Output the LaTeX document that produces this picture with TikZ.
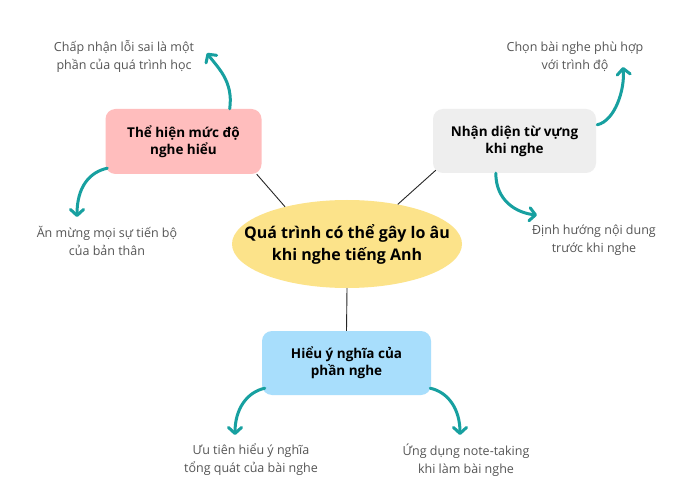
\documentclass[tikz,border=0pt]{standalone}
\usepackage{fontspec}
\setmainfont{Open Sans}
\usetikzlibrary{arrows.meta,calc,shapes.geometric}
\definecolor{teal1}{HTML}{17A0A0}
\definecolor{pinkbox}{HTML}{FFBDBD}
\definecolor{greybox}{HTML}{EEEEEE}
\definecolor{bluebox}{HTML}{A8DEFC}
\definecolor{yellowc}{HTML}{FCE38A}
\definecolor{txtgrey}{HTML}{555555}
\tikzset{
  topic/.style={rectangle, rounded corners=10pt, inner sep=0pt, align=center,
    font=\fontsize{13.5}{17}\selectfont\bfseries, text=black},
  central/.style={ellipse, fill=yellowc, inner sep=0pt,
    minimum width=230pt, minimum height=88pt},
  centraltext/.style={align=center, inner sep=0pt,
    font=\fontsize{16}{22}\selectfont\bfseries, text=black},
  leaf/.style={align=center, inner sep=0pt, text=txtgrey,
    font=\fontsize{12.5}{18}\selectfont},
  link/.style={draw=black!85, line width=0.9pt},
  branch/.style={draw=teal1, line width=3pt, line cap=round,
    -{Straight Barb[length=6pt,width=13pt,line cap=round,line join=round]}}
}
\begin{document}
\begin{tikzpicture}[x=1pt,y=-1pt]
\useasboundingbox[fill=white] (0,0) rectangle (700,502);
% main nodes
\node[central, label={[centraltext]center:Quá trình có thể gây lo âu\\khi nghe tiếng Anh}] (c) at (347,244) {};
\node[topic, fill=pinkbox, minimum width=156pt, minimum height=65pt] (p) at (183.5,141.5) {Thể hiện mức độ\\nghe hiểu};
\node[topic, fill=greybox, minimum width=163pt, minimum height=64pt] (g) at (514.5,141) {Nhận diện từ vựng\\khi nghe};
\node[topic, fill=bluebox, minimum width=169pt, minimum height=64pt] (b) at (346.5,363) {Hiểu ý nghĩa của\\phần nghe};
% leaf texts
\node[leaf] (l1) at (124,56.5) {Chấp nhận lỗi sai là một\\phần của quá trình học};
\node[leaf] (l2) at (107,240.5) {Ăn mừng mọi sự tiến bộ\\của bản thân};
\node[leaf] (l3) at (575,56.5) {Chọn bài nghe phù hợp\\với trình độ};
\node[leaf] (l4) at (594,240.5) {Định hướng nội dung\\trước khi nghe};
\node[leaf] (l5) at (251,460) {Ưu tiên hiểu ý nghĩa\\tổng quát của bài nghe};
\node[leaf] (l6) at (466,460) {Ứng dụng note-taking\\khi làm bài nghe};
% connectors
\draw[link] ($(p.south east)+(-5,0)$) -- (c.149);
\draw[link] ($(g.south west)+(3,-3)$) -- (c.38);
\draw[link] (c.south) -- (b.north);
% arrow end points
\coordinate (e1) at (207,53);
\coordinate (e2) at (77,217);
\coordinate (e3) at (623,67);
\coordinate (e4) at (537,215);
\coordinate (e5) at (235,435);
\coordinate (e6) at (460,435);
% teal arrows
\draw[branch] ($(p.north east)+(-32,0)$) .. controls +(4,-28) and +(10,14) .. (e1);
\draw[branch] ($(p.south west)+(2,-6)$) .. controls +(-18,4) and +(0,-30) .. (e2);
\draw[branch] ($(g.north east)+(1,16)$) .. controls +(18,-4) and +(2,22) .. (e3);
\draw[branch] ($(g.south west)+(63,0)$) .. controls +(0,28) and +(-20,-2) .. (e4);
\draw[branch] ($(b.south west)+(3,-7)$) .. controls +(-18,4) and +(0,-26) .. (e5);
\draw[branch] ($(b.south east)+(-1,-7)$) .. controls +(18,4) and +(0,-26) .. (e6);
\end{tikzpicture}
\end{document}
